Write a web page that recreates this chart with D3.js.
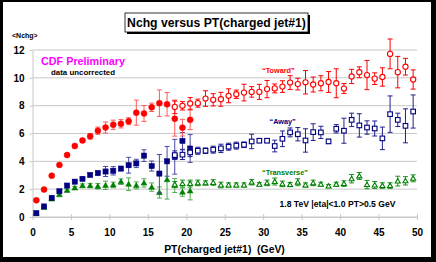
<!DOCTYPE html>
<html><head><meta charset="utf-8">
<script src="https://cdn.jsdelivr.net/npm/d3@7"></script>
<style>
html,body{margin:0;padding:0;background:#000;}
svg{display:block;}
text{font-family:"Liberation Sans",Arial,sans-serif;font-weight:bold;}
</style></head>
<body><svg id="c" width="436" height="262"></svg>
<script>
// ---- data ----
const ptFilled = [0.5,1.5,2.5,3.5,4.5,5.5,6.5,7.5,8.5,9.5,10.5,11.5,12.5,13.5,14.5,15.5,16.5,17.5,18.5,19.5,20.5];
const towardFilled = [1.2,1.97,2.97,3.74,4.45,5.1,5.5,5.8,6.2,6.43,6.63,6.7,6.88,7.5,7.44,7.88,8.18,8.1,7.06,6.42,6.98];
const towardFilledErr = [0.08,0.08,0.1,0.1,0.1,0.12,0.15,0.2,0.26,0.4,0.33,0.3,0.25,0.9,0.57,0.3,0.95,0.84,1.25,0.6,0.7];
const awayFilled = [0.28,0.76,1.38,1.85,2.26,2.54,2.74,3.02,3.16,3.27,3.32,3.48,3.72,3.85,4.41,3.66,3.12,4.0,4.33,5.47,4.92];
const awayFilledErr = [0.05,0.05,0.08,0.08,0.1,0.1,0.12,0.12,0.15,0.36,0.3,0.15,0.57,0.3,0.42,0.36,1.37,1.07,1.25,0.6,1.0];
const transFilled = [0.25,0.7,1.3,1.61,1.92,2.09,2.26,2.26,2.21,2.28,2.31,2.54,2.36,2.27,2.45,2.15,1.76,2.69,2.26,1.79,1.88];
const transFilledErr = [0.04,0.05,0.06,0.08,0.1,0.1,0.12,0.15,0.2,0.3,0.2,0.2,0.45,0.25,0.3,0.3,0.4,1.4,0.5,0.3,0.65];

const ptOpen = [18.5,19.5,20.5,21.5,22.5,23.5,24.5,25.5,26.5,27.5,28.5,29.5,30.5,31.5,32.5,33.5,34.5,35.5,36.5,37.5,38.5,39.5,40.5,41.5,42.5,43.5,44.5,45.5,46.5,47.5,48.5,49.5];
const towardOpen = [7.91,7.99,8.16,8.18,8.51,8.42,8.46,8.71,8.82,8.94,8.99,8.99,9.19,9.24,9.37,9.66,9.55,9.68,9.52,9.61,9.7,9.61,9.23,10.1,10.4,10.2,9.94,10.06,11.72,10.41,10.8,9.88];
const towardOpenErr = [0.48,0.3,0.42,0.29,0.56,0.44,0.5,0.5,0.3,0.6,0.38,0.54,0.62,0.32,0.42,0.5,0.42,0.84,0.54,0.54,0.75,1.04,0.36,0.51,0.39,1.05,0.42,0.66,1.07,1.13,0.6,0.69];
const awayOpen = [4.45,4.48,4.64,4.76,4.76,4.84,4.93,5.05,5.13,5.19,5.43,5.48,5.48,5.1,5.62,6.08,5.95,5.5,6.1,6.08,5.43,6.34,6.2,6.98,6.58,6.43,6.36,5.65,7.39,6.98,6.55,7.58];
const awayOpenErr = [0.3,0.35,0.3,0.25,0.2,0.25,0.3,0.25,0.25,0.2,0.52,0.12,0.12,0.42,0.56,0.32,0.48,0.84,0.6,0.44,0.15,0.3,0.9,0.48,0.84,0.48,0.54,0.81,1.31,0.48,1.22,1.19];
const transOpen = [2.35,2.4,2.4,2.45,2.45,2.48,2.3,2.3,2.3,2.3,2.5,2.35,2.45,2.55,2.38,2.33,2.5,2.3,2.45,2.35,2.22,2.35,2.4,2.75,2.95,2.33,2.3,2.26,2.26,2.58,2.6,2.78];
const transOpenErr = [0.2,0.25,0.25,0.2,0.15,0.2,0.2,0.15,0.15,0.15,0.2,0.12,0.2,0.25,0.2,0.15,0.25,0.15,0.2,0.15,0.12,0.15,0.2,0.3,0.25,0.3,0.25,0.2,0.2,0.35,0.3,0.25];

const xTicks = [0,5,10,15,20,25,30,35,40,45,50];
const yTicks = [0,2,4,6,8,10,12];

// ---- chart ----
const svg = d3.select("#c");
svg.append("rect").attr("x",3).attr("y",2).attr("width",428).attr("height",255).attr("fill","#fff");

const x = d3.scaleLinear().domain([0,50]).range([32.5,417]);
const y = d3.scaleLinear().domain([0,12]).range([217,50]);

// grid
svg.append("g").selectAll("line").data(yTicks).join("line")
  .attr("x1",x(0)).attr("x2",x(50)).attr("y1",d=>y(d)).attr("y2",d=>y(d))
  .attr("stroke","#c8c8c8").attr("stroke-width",1);

// y axis
const gy = svg.append("g").attr("transform",`translate(${x(0)},0)`)
  .call(d3.axisLeft(y).tickValues(yTicks).tickSizeInner(3).tickSizeOuter(0).tickPadding(5));
gy.select(".domain").attr("stroke","#c8c8c8");
gy.selectAll(".tick line").attr("stroke","#c8c8c8");
gy.selectAll("text").attr("font-size",10).attr("fill","#000").style("font-weight","bold");

// x axis
const gx = svg.append("g").attr("transform",`translate(0,${y(0)})`)
  .call(d3.axisBottom(x).tickValues(xTicks).tickSizeInner(3).tickSizeOuter(0).tickPadding(9));
gx.select(".domain").attr("stroke","#c8c8c8");
gx.selectAll(".tick line").attr("stroke","#c8c8c8").attr("y1",-3).attr("y2",3);
gx.selectAll("text").attr("font-size",10).attr("fill","#000").style("font-weight","bold");

function drawSeries(xs, ys, es, color, errColor, shape, open){
  const g = svg.append("g");
  const data = xs.map((v,i)=>({x:v,y:ys[i],e:es[i]}));
  const eg = g.append("g").attr("stroke",errColor).attr("stroke-width",1).attr("fill","none");
  data.forEach(d=>{
    const cx = x(d.x), y1 = y(d.y+d.e), y2 = y(d.y-d.e);
    eg.append("line").attr("x1",cx).attr("x2",cx).attr("y1",y1).attr("y2",y2);
    eg.append("line").attr("x1",cx-2.5).attr("x2",cx+2.5).attr("y1",y1).attr("y2",y1);
    eg.append("line").attr("x1",cx-2.5).attr("x2",cx+2.5).attr("y1",y2).attr("y2",y2);
  });
  const fill = open ? "#fff" : color;
  const mg = g.append("g");
  if(shape==="circle"){
    mg.selectAll("circle").data(data).join("circle")
      .attr("cx",d=>x(d.x)).attr("cy",d=>y(d.y)).attr("r",open?2.6:3)
      .attr("fill",fill).attr("stroke",color).attr("stroke-width",open?1.1:0.5);
  } else if(shape==="square"){
    const s = open?4.6:5.2;
    mg.selectAll("rect").data(data).join("rect")
      .attr("x",d=>x(d.x)-s/2).attr("y",d=>y(d.y)-s/2).attr("width",s).attr("height",s)
      .attr("fill",fill).attr("stroke",color).attr("stroke-width",open?1.1:0.5);
  } else {
    const sym = d3.symbol(d3.symbolTriangle, open?11:15);
    mg.selectAll("path").data(data).join("path")
      .attr("d",sym).attr("transform",d=>`translate(${x(d.x)},${y(d.y)+0.5})`)
      .attr("fill",fill).attr("stroke",color).attr("stroke-width",open?1.1:0.5);
  }
}

drawSeries(ptFilled, transFilled, transFilledErr, "#008000", "#55aa55", "tri", false);
drawSeries(ptFilled, awayFilled, awayFilledErr, "#000080", "#4848a8", "square", false);
drawSeries(ptFilled, towardFilled, towardFilledErr, "#ff0000", "#ff5a5a", "circle", false);
drawSeries(ptOpen, transOpen, transOpenErr, "#008000", "#1e901e", "tri", true);
drawSeries(ptOpen, awayOpen, awayOpenErr, "#000080", "#202090", "square", true);
drawSeries(ptOpen, towardOpen, towardOpenErr, "#ff0000", "#ff0000", "circle", true);

// title box
svg.append("rect").attr("x",127).attr("y",15).attr("width",183).attr("height",19).attr("fill","#000");
svg.append("rect").attr("x",125).attr("y",13).attr("width",183).attr("height",19).attr("fill","#fff").attr("stroke","#000").attr("stroke-width",0.8);
svg.append("text").attr("x",216.5).attr("y",27).attr("text-anchor","middle").attr("font-size",12.2).attr("fill","#000")
  .text("Nchg versus PT(charged jet#1)");

svg.append("text").attr("x",12).attr("y",37.5).attr("font-size",7).attr("fill","#000").text("<Nchg>");
svg.append("text").attr("x",41).attr("y",64.5).attr("font-size",10.8).attr("fill","#ff00ff").text("CDF Preliminary");
svg.append("text").attr("x",51).attr("y",75).attr("font-size",7.9).attr("fill","#000").text("data uncorrected");
svg.append("text").attr("x",262).attr("y",73).attr("font-size",7.3).attr("fill","#ff0000").text("\u201cToward\u201d");
svg.append("text").attr("x",269.5).attr("y",124).attr("font-size",7.3).attr("fill","#000080").text("\u201cAway\u201d");
svg.append("text").attr("x",262).attr("y",174.5).attr("font-size",7.3).attr("fill","#008000").text("\u201cTransverse\u201d");
svg.append("text").attr("x",279.5).attr("y",207).attr("font-size",8.6).attr("fill","#000").text("1.8 TeV |eta|<1.0 PT>0.5 GeV");
svg.append("text").attr("x",224.5).attr("y",252.5).attr("text-anchor","middle").attr("font-size",10.4).attr("fill","#000")
  .style("white-space","pre").text("PT(charged jet#1)  (GeV)");
</script></body></html>
